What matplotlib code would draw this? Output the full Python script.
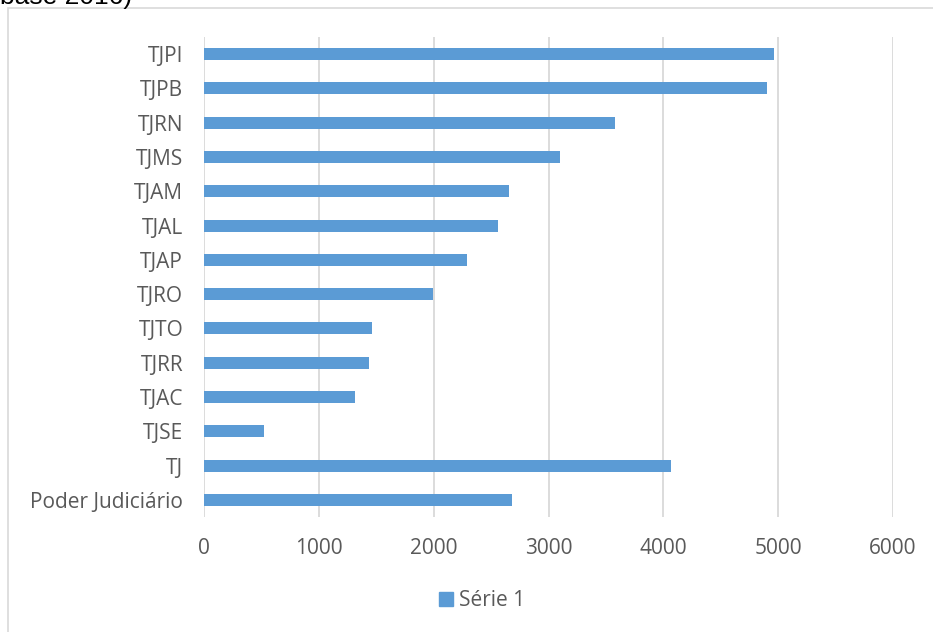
import matplotlib
matplotlib.use("Agg")
import matplotlib.pyplot as plt
from matplotlib.patches import Rectangle, Patch

# dados
categorias = ["TJPI", "TJPB", "TJRN", "TJMS", "TJAM", "TJAL", "TJAP",
              "TJRO", "TJTO", "TJRR", "TJAC", "TJSE", "TJ", "Poder Judiciário"]
valores = [4963, 4900, 3583, 3096, 2654, 2562, 2286,
           1996, 1462, 1433, 1314, 525, 4070, 2678]
xticks = [0, 1000, 2000, 3000, 4000, 5000, 6000]
serie = "Série 1"

W, H = 933, 632
cor_barra = "#5b9bd5"
cor_texto = "#595959"
cor_grade = "#d9d9d9"

plt.rcParams['font.family'] = ['Open Sans', 'DejaVu Sans']

fig = plt.figure(figsize=(W / 100, H / 100), dpi=100)

# moldura do gráfico (cortada à direita e embaixo)
fig.patches.append(Rectangle((8 / W, -0.1), 1.2, 1 - 8 / H + 0.1,
                             transform=fig.transFigure, fill=False,
                             edgecolor=cor_grade, linewidth=1.2))

# título cortado no topo
fig.text(0.0, 1 - 4 / H, "base 2016)", fontsize=19, color="black",
         family="Liberation Sans", ha="left", va="baseline")

ax = fig.add_axes([204 / W, 1 - 517 / H, (893 - 204) / W, (517 - 37) / H])
y = list(range(len(categorias)))
ax.barh(y, valores, height=0.35, color=cor_barra, zorder=3)
ax.set_ylim(len(categorias) - 0.5, -0.5)
ax.set_xlim(0, 6000)
ax.set_yticks(y)
ax.set_yticklabels(categorias)
ax.set_xticks(xticks)
ax.tick_params(axis="both", length=0, labelsize=15, colors=cor_texto)
ax.tick_params(axis="y", pad=15)
ax.tick_params(axis="x", pad=15)
ax.grid(axis="x", color=cor_grade, linewidth=1.3, zorder=0)
for s in ax.spines.values():
    s.set_visible(False)

fig.legend(handles=[Patch(color=cor_barra, label=serie)], loc="center",
           bbox_to_anchor=(482 / W, 1 - 601 / H), frameon=False,
           handlelength=0.65, handleheight=0.65, handletextpad=0.3,
           fontsize=15, labelcolor=cor_texto)

fig.savefig("out.png", dpi=100)
